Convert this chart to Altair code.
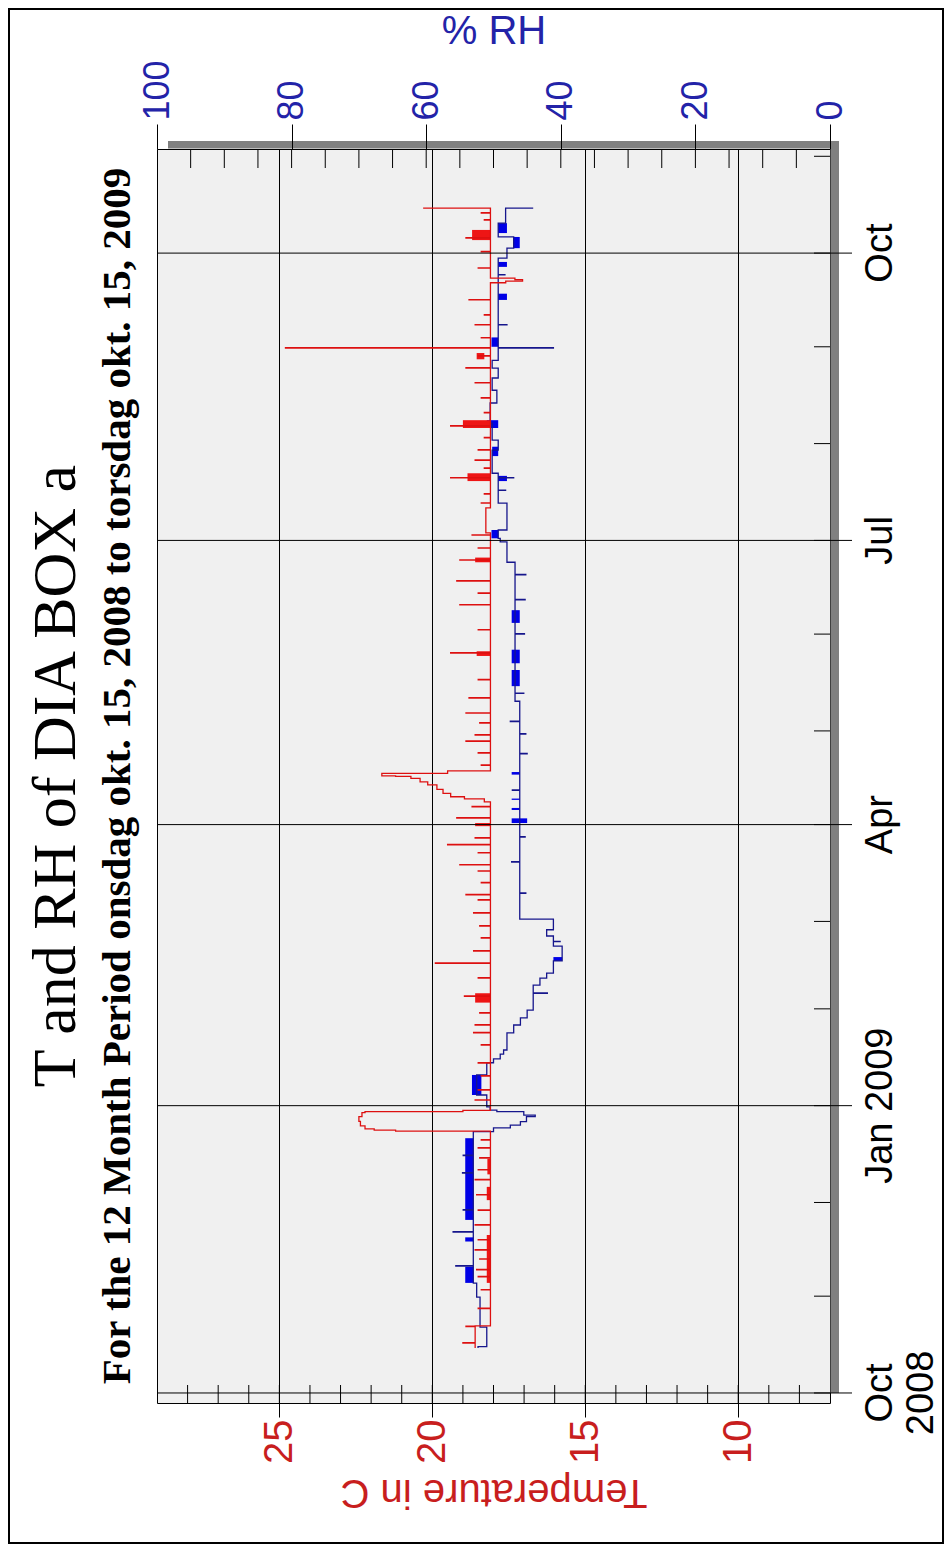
import altair as alt
import pandas as pd

W, H = 673, 1254

RED = "#dd1010"
RED_FILL = "#ee1515"
RED_TXT = "#c81e1e"
BLUE = "#16168c"
BLUE_FILL = "#0000e6"
BLUE_TXT = "#2323a8"
SANS = "Liberation Sans"
SERIF = "Liberation Serif"

# ---------------- temperature (deg C): step series ----------------
t_times = [
    "2008-10-15T10:00", "2008-10-22T12:00",
    "2008-12-23T20:00", "2008-12-24T04:00", "2008-12-24T14:00", "2008-12-25T12:00",
    "2008-12-27T00:00", "2008-12-28T12:00", "2008-12-29T18:00", "2008-12-30T02:00",
    "2008-12-30T12:00",
    "2009-04-08T07:00", "2009-04-09T05:00", "2009-04-09T22:00", "2009-04-11T00:00",
    "2009-04-12T07:00", "2009-04-13T17:00", "2009-04-14T17:00", "2009-04-15T19:00",
    "2009-04-16T10:00", "2009-04-16T14:00", "2009-04-17T10:00", "2009-04-18T05:00",
    "2009-07-03T10:00", "2009-07-11T10:00",
    "2009-09-21T12:00", "2009-09-22T00:00", "2009-09-22T12:00", "2009-09-23T00:00",
    "2009-10-15T10:00",
]
t_vals = [
    18.6, 18.1,
    21.2, 21.9, 22.2, 22.35,
    22.4, 22.3, 22.2, 19.0,
    18.1,
    18.3, 18.95, 19.4, 19.65,
    19.85, 20.15, 20.4, 20.7,
    21.2, 21.65, 19.5, 18.1,
    18.25, 18.1,
    17.6, 17.05, 17.3, 18.1,
    20.3,
]
t_spike_times = [
    "2008-10-17T00:00", "2008-10-22T06:00", "2008-10-28T00:00", "2008-11-03T00:00",
    "2008-11-07T04:00", "2008-11-09T10:00", "2008-11-12T20:00", "2008-11-15T18:00",
    "2008-11-19T00:00", "2008-11-23T18:00",
    "2008-11-28T12:00", "2008-12-03T10:00", "2008-12-08T06:00", "2008-12-11T10:00",
    "2008-12-15T06:00", "2008-12-18T10:00", "2008-12-21T00:00",
    "2009-01-02T18:00", "2009-01-06T00:00", "2009-01-10T12:00", "2009-01-14T16:00",
    "2009-01-20T10:00", "2009-01-24T08:00", "2009-01-26T20:00", "2009-01-30T16:00",
    "2009-02-05T00:00", "2009-02-10T20:00", "2009-02-15T14:00", "2009-02-19T12:00",
    "2009-02-23T16:00", "2009-02-27T12:00", "2009-03-03T16:00", "2009-03-07T20:00",
    "2009-03-09T12:00", "2009-03-13T08:00", "2009-03-17T02:00", "2009-03-19T02:00",
    "2009-03-22T22:00", "2009-03-25T12:00", "2009-03-27T16:00", "2009-04-03T02:00",
    "2009-04-06T16:00",
    "2009-04-20T00:00", "2009-04-23T22:00", "2009-04-27T16:00", "2009-04-29T16:00",
    "2009-05-03T12:00", "2009-05-06T16:00", "2009-05-11T12:00", "2009-05-17T08:00",
    "2009-05-25T22:00", "2009-06-02T08:00", "2009-06-10T08:00", "2009-06-14T02:00",
    "2009-06-18T00:00", "2009-06-24T16:00", "2009-06-28T12:00", "2009-07-02T16:00",
    "2009-07-12T22:00", "2009-07-15T20:00", "2009-07-21T00:00", "2009-07-24T02:00",
    "2009-07-26T16:00", "2009-07-29T22:00", "2009-08-02T20:00", "2009-08-06T14:00",
    "2009-08-10T20:00", "2009-08-15T14:00", "2009-08-20T10:00", "2009-08-25T04:00",
    "2009-08-29T00:00", "2009-08-31T14:00", "2009-09-03T20:00", "2009-09-08T00:00",
    "2009-09-11T04:00", "2009-09-16T00:00", "2009-09-26T04:00", "2009-10-01T10:00",
    "2009-10-05T20:00", "2009-10-11T14:00", "2009-10-13T20:00",
]
t_spike_vals = [
    19.0, 18.9, 18.5, 18.4,
    18.5, 18.55, 18.45, 18.6,
    18.5, 18.6,
    18.5, 18.55, 18.6, 18.5,
    18.45, 18.5, 18.4,
    18.6, 18.5, 18.4, 18.5,
    18.4, 18.65, 18.6, 18.45,
    18.95, 18.5, 19.9, 18.65,
    18.4, 18.45, 18.65, 18.5,
    18.9, 18.4, 18.5, 19.1,
    18.5, 19.5, 18.6, 19.2,
    18.7,
    18.4, 18.5, 18.9, 18.6,
    18.45, 18.9, 18.8, 18.5,
    19.4, 18.5, 19.1, 18.5,
    19.2, 19.1, 18.5, 18.7,
    18.4, 18.3, 19.4, 18.3,
    18.6, 18.5, 18.3, 19.4,
    18.3, 18.4, 18.6, 18.9,
    18.5, 24.8, 18.4, 18.6,
    18.3, 18.8, 18.5, 18.4,
    18.9, 18.3, 18.4,
]
t_blk_start = ["2008-11-05T06:00", "2008-12-01T18:00", "2008-12-10T00:00", "2009-02-03T00:00",
               "2009-03-31T12:00", "2009-05-25T00:00", "2009-06-24T00:00", "2009-07-20T00:00",
               "2009-08-06T00:00", "2009-08-28T00:00", "2009-10-05T04:00"]
t_blk_end = ["2008-11-20T14:00", "2008-12-06T00:00", "2008-12-15T00:00", "2009-02-06T00:00",
             "2009-04-01T12:00", "2009-05-26T12:00", "2009-06-25T12:00", "2009-07-22T12:00",
             "2009-08-08T12:00", "2009-08-30T00:00", "2009-10-08T10:00"]
t_blk_lo = [18.1, 18.1, 18.1, 18.1, 18.1, 18.1, 18.1, 18.1, 18.1, 18.3, 18.1]
t_blk_hi = [18.22, 18.22, 18.2, 18.6, 18.6, 18.55, 18.6, 18.85, 19.0, 18.55, 18.7]

# ---------------- relative humidity (%): step series ----------------
rh_times = [
    "2008-10-15T10:00", "2008-10-15T20:00", "2008-10-22T02:00", "2008-10-31T16:00",
    "2008-11-05T04:00", "2008-12-23T17:00", "2008-12-24T22:00", "2008-12-25T19:00",
    "2008-12-26T22:00", "2008-12-28T12:00", "2008-12-29T00:00", "2008-12-30T02:00",
    "2008-12-30T14:00", "2008-12-31T14:00", "2009-01-04T10:00", "2009-01-10T20:00",
    "2009-01-14T18:00", "2009-01-16T00:00", "2009-01-17T12:00", "2009-01-18T20:00",
    "2009-01-24T08:00", "2009-01-26T20:00", "2009-01-29T02:00", "2009-01-31T14:00",
    "2009-02-08T14:00", "2009-02-10T20:00", "2009-02-12T10:00", "2009-02-16T08:00",
    "2009-02-21T02:00", "2009-02-24T08:00", "2009-02-26T08:00", "2009-03-01T17:00",
    "2009-05-10T12:00", "2009-06-24T00:00", "2009-06-30T12:00", "2009-07-01T16:00",
    "2009-07-04T08:00", "2009-07-12T22:00", "2009-07-22T12:00", "2009-07-29T22:00",
    "2009-08-02T02:00", "2009-08-07T14:00", "2009-08-14T00:00", "2009-08-18T02:00",
    "2009-08-22T00:00", "2009-08-25T04:00", "2009-08-27T16:00", "2009-09-29T10:00",
    "2009-10-02T14:00", "2009-10-06T04:00", "2009-10-10T14:00", "2009-10-15T10:00",
]
rh_vals = [
    52.3, 51.0, 52.0, 52.5,
    53.0, 50.0, 47.5, 46.0,
    45.1, 43.8, 45.5, 49.5,
    50.5, 51.0, 52.5, 51.0,
    50.0, 49.0, 48.5, 48.0,
    47.0, 46.0, 45.0, 44.1,
    43.1, 42.1, 41.1, 39.8,
    41.1, 42.1, 41.1, 46.1,
    46.8, 48.0, 49.0, 49.3,
    48.0, 49.3, 50.2, 49.3,
    50.2, 50.5, 49.5, 50.2,
    49.3, 50.2, 49.3, 48.0,
    47.0, 49.3, 48.2, 44.1,
]
rh_spike_times = [
    "2008-11-10T16:00", "2008-11-21T12:00", "2008-11-28T14:00", "2008-12-10T10:00",
    "2008-12-16T00:00", "2009-02-06T00:00", "2009-02-22T12:00", "2009-03-10T00:00",
    "2009-03-20T00:00", "2009-03-28T00:00", "2009-04-12T00:00", "2009-04-23T16:00",
    "2009-04-30T00:00", "2009-05-04T00:00", "2009-05-13T00:00", "2009-06-01T00:00",
    "2009-06-12T00:00", "2009-06-20T00:00", "2009-07-17T00:00", "2009-07-21T00:00",
    "2009-08-31T14:00", "2009-09-08T00:00", "2009-09-24T00:00",
]
rh_spike_vals = [
    55.6, 56.0, 54.5, 54.6,
    54.5, 42.0, 40.1, 45.2,
    47.3, 45.3, 47.2, 45.0,
    45.2, 47.5, 45.5, 45.4,
    45.3, 45.2, 48.2, 47.0,
    41.1, 48.0, 48.3,
]
rh_blk_start = ["2008-11-05T06:00", "2008-11-18T12:00", "2008-11-25T10:00", "2009-01-04T10:00",
                "2009-02-16T08:00", "2009-04-01T12:00", "2009-04-05T16:00", "2009-04-08T22:00",
                "2009-04-17T00:00", "2009-05-15T08:00", "2009-05-22T16:00", "2009-06-04T14:00",
                "2009-07-01T16:00", "2009-07-20T00:00", "2009-07-28T00:00", "2009-08-06T00:00",
                "2009-09-01T00:00", "2009-09-16T00:00", "2009-09-26T14:00", "2009-10-02T14:00",
                "2009-10-07T10:00"]
rh_blk_end = ["2008-11-10T10:00", "2008-11-19T20:00", "2008-12-21T14:00", "2009-01-10T20:00",
              "2009-02-17T14:00", "2009-04-03T00:00", "2009-04-06T08:00", "2009-04-09T08:00",
              "2009-04-17T20:00", "2009-05-20T12:00", "2009-05-27T00:00", "2009-06-08T16:00",
              "2009-07-04T08:00", "2009-07-21T16:00", "2009-07-31T00:00", "2009-08-08T12:00",
              "2009-09-04T00:00", "2009-09-18T00:00", "2009-09-28T04:00", "2009-10-06T04:00",
              "2009-10-10T14:00"]
rh_blk_lo = [53.0, 53.0, 53.0, 51.8, 39.8, 45.0, 46.1, 46.1, 46.1, 46.1, 46.1, 46.1,
             49.3, 48.0, 49.3, 49.3, 49.3, 48.0, 48.0, 46.1, 48.0]
rh_blk_hi = [54.2, 54.2, 54.2, 53.2, 41.1, 47.3, 47.3, 47.3, 47.3, 47.3, 47.3, 47.3,
             50.3, 49.3, 50.2, 51.0, 50.3, 49.3, 49.3, 47.1, 49.3]

# ---------------- axes ----------------
temp_ticks = [10, 15, 20, 25]
temp_minor = list(range(8, 29))
rh_ticks = [0, 20, 40, 60, 80, 100]
rh_minor = list(range(5, 100, 5))
month_starts = ["2008-10-01", "2008-11-01", "2008-12-01", "2009-01-01", "2009-02-01",
                "2009-03-01", "2009-04-01", "2009-05-01", "2009-06-01", "2009-07-01",
                "2009-08-01", "2009-09-01", "2009-10-01", "2009-11-01"]
quarter_starts = ["2008-10-01", "2009-01-01", "2009-04-01", "2009-07-01", "2009-10-01"]
quarter_names = ["Oct", "Jan 2009", "Apr", "Jul", "Oct"]
year_label_date = ["2008-10-01"]
year_label_text = ["2008"]


def build(times, vals, sp_times, sp_vals):
    base = pd.DataFrame({"t": pd.to_datetime(times), "v": vals})
    rows = list(zip(base.t, base.v))
    for ts, v in zip(pd.to_datetime(sp_times), sp_vals):
        back = ts + pd.Timedelta(hours=3)
        b = base[base.t <= back].v.iloc[-1]
        rows.append((ts, v))
        rows.append((back, b))
    df = pd.DataFrame(rows, columns=["t", "v"]).sort_values("t", kind="stable").reset_index(drop=True)
    df["i"] = range(len(df))
    df["t"] = df.t.dt.strftime("%Y-%m-%dT%H:%M:%S")
    return df


t_df = build(t_times, t_vals, t_spike_times, t_spike_vals)
rh_df = build(rh_times, rh_vals, rh_spike_times, rh_spike_vals)
t_blk = pd.DataFrame({"s": t_blk_start, "e": t_blk_end, "lo": t_blk_lo, "hi": t_blk_hi})
rh_blk = pd.DataFrame({"s": rh_blk_start, "e": rh_blk_end, "lo": rh_blk_lo, "hi": rh_blk_hi})


def t_scale():
    return alt.Scale(domain=[7, 29], reverse=True, nice=False, zero=False)


def rh_scale():
    return alt.Scale(domain=[0, 100], reverse=True, nice=False, zero=False)


def y_scale():
    return alt.Scale(domain=[alt.DateTime(year=2008, month=9, date=27, hours=19),
                             alt.DateTime(year=2009, month=11, date=3, hours=8)], nice=False)


t_axis = alt.Axis(
    orient="bottom", values=temp_ticks,
    grid=True, gridColor="black", gridOpacity=1, gridWidth=1,
    domain=False, tickSize=14, tickColor="black", tickWidth=1,
    labelAngle=270, labelAlign="right", labelBaseline="middle", labelPadding=2,
    labelFont=SANS, labelFontSize=40, labelColor=RED_TXT,
    labelOverlap=False, labelFlush=False,
    title="Temperature in C", titleFont=SANS, titleFontSize=40, titleFontWeight="normal",
    titleColor=RED_TXT, titleAngle=180, titleBaseline="bottom", titlePadding=8,
)
rh_axis = alt.Axis(
    orient="top", values=rh_ticks, grid=False,
    domain=False, tickSize=25, tickColor="black", tickWidth=1,
    labelAngle=270, labelAlign="left", labelBaseline="middle", labelPadding=4,
    labelFont=SANS, labelFontSize=36, labelColor=BLUE_TXT,
    labelOverlap=False, labelFlush=False,
    title="% RH", titleFont=SANS, titleFontSize=40, titleFontWeight="normal",
    titleColor=BLUE_TXT, titlePadding=8, zindex=1,
)

one = pd.DataFrame({"k": [0]})
# figure border and plot drop shadow (page decoration)
border = alt.Chart(one).mark_rect(fillOpacity=0, stroke="black", strokeWidth=2).encode(
    x=alt.value(-148), x2=alt.value(W + 113), y=alt.value(-140), y2=alt.value(H + 140))
shadow_top = alt.Chart(one).mark_rect(color="#808080").encode(
    x=alt.value(11), x2=alt.value(W + 9), y=alt.value(-8), y2=alt.value(-0.5))
shadow_right = alt.Chart(one).mark_rect(color="#808080").encode(
    x=alt.value(W + 0.5), x2=alt.value(W + 9), y=alt.value(-8), y2=alt.value(H - 10))

# time axis: quarter grid lines reaching past the frame, month ticks, labels
q_df = pd.DataFrame({"q": quarter_starts, "lab": quarter_names})
quarter_lines = alt.Chart(q_df).mark_rule(color="black", strokeWidth=1).encode(
    y=alt.Y("q:T", scale=y_scale(), axis=None), x=alt.value(0), x2=alt.value(W + 22))
quarter_labels = alt.Chart(q_df).mark_text(
    angle=270, align="center", baseline="top", font=SANS, fontSize=38, color="black").encode(
    y=alt.Y("q:T", scale=y_scale(), axis=None), x=alt.value(W + 32), text="lab:N")
year_labels = alt.Chart(pd.DataFrame({"q": year_label_date, "txt": year_label_text})).mark_text(
    angle=270, align="center", baseline="top", font=SANS, fontSize=38, color="black").encode(
    y=alt.Y("q:T", scale=y_scale(), axis=None), x=alt.value(W + 73), text="txt:N")
month_ticks = alt.Chart(pd.DataFrame({"m": month_starts})).mark_rule(color="black", strokeWidth=1).encode(
    y=alt.Y("m:T", scale=y_scale(), axis=None), x=alt.value(W - 16), x2=alt.value(W))

rh_minor_ticks = alt.Chart(pd.DataFrame({"r": rh_minor})).mark_rule(color="black", strokeWidth=1).encode(
    x=alt.X("r:Q", scale=rh_scale(), axis=None), y=alt.value(0), y2=alt.value(19))
rh_blocks = alt.Chart(rh_blk).mark_rect(color=BLUE_FILL).encode(
    x=alt.X("lo:Q", scale=rh_scale(), axis=None), x2="hi:Q",
    y=alt.Y("s:T", scale=y_scale(), axis=None), y2="e:T")
rh_line = alt.Chart(rh_df).mark_line(orient="vertical", interpolate="step-before",
                                     color=BLUE, strokeWidth=1.3).encode(
    x=alt.X("v:Q", scale=rh_scale(), axis=rh_axis),
    y=alt.Y("t:T", scale=y_scale(), axis=None),
    order=alt.Order("i:Q"))

t_minor_ticks = alt.Chart(pd.DataFrame({"c": temp_minor})).mark_rule(color="black", strokeWidth=1).encode(
    x=alt.X("c:Q", scale=t_scale(), axis=None), y=alt.value(H - 18), y2=alt.value(H))
t_blocks = alt.Chart(t_blk).mark_rect(color=RED_FILL).encode(
    x=alt.X("lo:Q", scale=t_scale(), axis=None), x2="hi:Q",
    y=alt.Y("s:T", scale=y_scale(), axis=None), y2="e:T")
t_line = alt.Chart(t_df).mark_line(orient="vertical", interpolate="step-before",
                                   color=RED, strokeWidth=1.3).encode(
    x=alt.X("v:Q", scale=t_scale(), axis=t_axis),
    y=alt.Y("t:T", scale=y_scale(), axis=None),
    order=alt.Order("i:Q"))

chart = alt.layer(
    border, shadow_top, shadow_right, month_ticks, rh_minor_ticks, t_minor_ticks,
    rh_blocks, rh_line, t_blocks, t_line,
    quarter_lines, quarter_labels, year_labels,
).resolve_scale(x="independent").properties(
    width=W, height=H,
    autosize=alt.AutoSizeParams(type="none"),
    padding={"left": 149, "top": 141, "right": 114, "bottom": 141},
    title=alt.TitleParams(
        text="T and RH of DIA BOX a",
        subtitle="For the 12 Month Period onsdag okt. 15, 2008 to torsdag okt. 15, 2009",
        orient="left", anchor="middle", frame="group",
        font=SERIF, fontSize=62, fontWeight="normal", color="black",
        subtitleFont=SERIF, subtitleFontSize=41, subtitleFontWeight="bold",
        subtitleColor="black", subtitlePadding=10, offset=-131,
    ),
).configure(background="white").configure_view(stroke="black", strokeWidth=1, fill="#f0f0f0")

chart.save("out.html", embed_options={"renderer": "svg", "actions": False})
